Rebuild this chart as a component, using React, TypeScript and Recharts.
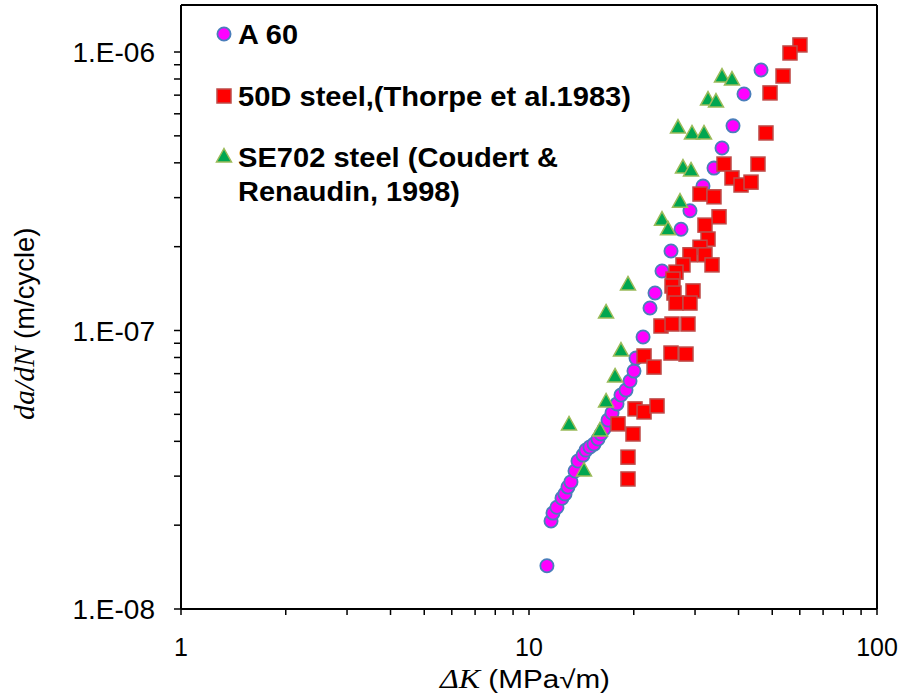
import React from 'react';
import { ScatterChart, Scatter, XAxis, YAxis, ReferenceLine, Customized } from 'recharts';

// ---- data ----
const a60X = [11.26, 11.57, 11.72, 12.03, 12.44, 12.69, 12.94, 13.2, 13.56, 13.83, 14.3, 14.58, 14.97, 15.38, 15.79, 16.1, 16.42, 16.87, 17.32, 17.9, 18.38, 19.0, 19.51, 20.03, 20.3, 21.27, 22.27, 23.02, 24.11, 25.59, 27.34, 29.01, 31.62, 34.01, 35.86, 38.57, 41.48, 46.42];
const a60Y = [1.43e-8, 2.07e-8, 2.21e-8, 2.32e-8, 2.5e-8, 2.59e-8, 2.74e-8, 2.86e-8, 3.13e-8, 3.4e-8, 3.57e-8, 3.72e-8, 3.82e-8, 3.91e-8, 4.08e-8, 4.25e-8, 4.43e-8, 4.77e-8, 5.06e-8, 5.45e-8, 5.87e-8, 6.11e-8, 6.59e-8, 7.15e-8, 7.96e-8, 9.48e-8, 1.204e-7, 1.363e-7, 1.635e-7, 1.93e-7, 2.31e-7, 2.69e-7, 3.3e-7, 3.83e-7, 4.52e-7, 5.43e-7, 7.07e-7, 8.62e-7];

const steel50DX = [60.06, 56.23, 53.7, 49.27, 47.97, 45.5, 36.34, 38.31, 40.67, 43.45, 31.0, 34.01, 35.16, 32.04, 32.69, 31.0, 29.01, 32.04, 27.7, 33.57, 26.45, 25.93, 25.76, 29.6, 26.1, 26.45, 29.01, 23.95, 25.76, 28.63, 21.41, 22.87, 25.59, 28.26, 20.17, 21.41, 23.33, 18.02, 19.9, 19.25, 19.25];
const steel50DY = [1.06e-6, 9.92e-7, 8.2e-7, 7.13e-7, 5.12e-7, 3.96e-7, 3.96e-7, 3.53e-7, 3.33e-7, 3.41e-7, 3.09e-7, 3.02e-7, 2.56e-7, 2.39e-7, 2.13e-7, 1.99e-7, 1.87e-7, 1.87e-7, 1.72e-7, 1.72e-7, 1.62e-7, 1.53e-7, 1.445e-7, 1.387e-7, 1.363e-7, 1.255e-7, 1.255e-7, 1.038e-7, 1.055e-7, 1.055e-7, 8.1e-8, 7.39e-8, 8.3e-8, 8.23e-8, 5.23e-8, 5.1e-8, 5.36e-8, 4.62e-8, 4.25e-8, 3.51e-8, 2.93e-8];

const se702X = [35.86, 38.31, 32.69, 34.46, 26.8, 29.4, 31.83, 27.7, 29.21, 27.16, 24.11, 25.08, 19.25, 16.65, 18.38, 17.67, 16.65, 13.03, 16.0, 14.39];
const se702Y = [8.13e-7, 7.93e-7, 6.72e-7, 6.61e-7, 5.33e-7, 5.08e-7, 5.08e-7, 3.83e-7, 3.74e-7, 2.89e-7, 2.49e-7, 2.3e-7, 1.457e-7, 1.156e-7, 8.44e-8, 6.81e-8, 5.54e-8, 4.58e-8, 4.36e-8, 3.13e-8];

const seriesNames = ['A 60', '50D steel,(Thorpe et al.1983)', 'SE702 steel (Coudert &', 'Renaudin, 1998)'];

const xTicks = [1, 2, 3, 4, 5, 6, 7, 8, 9, 10, 20, 30, 40, 50, 60, 70, 80, 90, 100];
const xMajor = [1, 10, 100];
const xMajorLabels = ['1', '10', '100'];
const yTicks = [1e-8, 2e-8, 3e-8, 4e-8, 5e-8, 6e-8, 7e-8, 8e-8, 9e-8, 1e-7, 2e-7, 3e-7, 4e-7, 5e-7, 6e-7, 7e-7, 8e-7, 9e-7, 1e-6];
const yMajor = [1e-8, 1e-7, 1e-6];
const yMajorLabels = ['1.E-08', '1.E-07', '1.E-06'];

const X_DOMAIN = [1, 100];
const Y_DOMAIN = [1e-8, 1.475e-6];

const zip = (xs: number[], ys: number[]) => xs.map((x, i) => ({ x, y: ys[i] }));
const a60Data = zip(a60X, a60Y);
const steel50DData = zip(steel50DX, steel50DY);
const se702Data = zip(se702X, se702Y);

const FONT = '"Liberation Sans", Arial, sans-serif';
const SERIF = '"Liberation Serif", "Times New Roman", serif';

const matchIdx = (arr: number[], v: number) => arr.findIndex((m) => Math.abs(m - v) / m < 1e-6);

const CircleShape = (p: any) => (
  <circle cx={p.cx} cy={p.cy} r={6.6} fill="#FF00FF" stroke="#4A7EBB" strokeWidth={1.8} />
);
const SquareShape = (p: any) => (
  <rect x={p.cx - 7} y={p.cy - 7} width={14} height={14} fill="#FF0000" stroke="#BE4B48" strokeWidth={1.5} />
);
const TriShape = (p: any) => (
  <polygon
    points={`${p.cx},${p.cy - 8.5} ${p.cx + 7.5},${p.cy + 5} ${p.cx - 7.5},${p.cy + 5}`}
    fill="#00A650"
    stroke="#9BBB59"
    strokeWidth={1.5}
  />
);

const XTick = (props: any) => {
  const { x, y, payload } = props;
  const i = matchIdx(xMajor, payload.value);
  if (i < 0) return null;
  return (
    <text x={x} y={y} dy="0.36em" textAnchor="middle" fontFamily={FONT} fontSize={25} fill="#000">
      {xMajorLabels[i]}
    </text>
  );
};

const YTick = (props: any) => {
  const { x, y, payload } = props;
  const i = matchIdx(yMajor, payload.value);
  if (i < 0) return null;
  return (
    <text x={x} y={y} dy="0.36em" textAnchor="end" fontFamily={FONT} fontSize={28} fill="#000">
      {yMajorLabels[i]}
    </text>
  );
};

const legendWidths = [60, 393, 320, 222];

const LegendAndTitles = () => {
  const tx = 238;
  const ts = { fontFamily: FONT, fontSize: 27, fontWeight: 700, fill: '#000', lengthAdjust: 'spacingAndGlyphs' } as any;
  return (
    <g>
      <circle cx={224} cy={34} r={6.6} fill="#FF00FF" stroke="#4A7EBB" strokeWidth={1.8} />
      <text x={tx} y={34} dy="0.36em" textLength={legendWidths[0]} {...ts}>{seriesNames[0]}</text>
      <rect x={217} y={89} width={14} height={14} fill="#FF0000" stroke="#BE4B48" strokeWidth={1.5} />
      <text x={tx} y={96} dy="0.36em" textLength={legendWidths[1]} {...ts}>{seriesNames[1]}</text>
      <polygon points={`224,148.5 231.5,162 216.5,162`} fill="#00A650" stroke="#9BBB59" strokeWidth={1.5} />
      <text x={tx} y={157.5} dy="0.36em" textLength={legendWidths[2]} {...ts}>{seriesNames[2]}</text>
      <text x={tx} y={191} dy="0.36em" textLength={legendWidths[3]} {...ts}>{seriesNames[3]}</text>
      <text x={440} y={679} dy="0.36em" textAnchor="start" fontFamily={FONT} fontSize={25} fill="#000" textLength={170} lengthAdjust="spacingAndGlyphs">
        <tspan fontFamily={SERIF} fontStyle="italic" fontSize={27}>ΔK</tspan>
        <tspan> (MPa√m)</tspan>
      </text>
      <text x={24} y={420} dy="0.36em" textAnchor="start" fontFamily={FONT} fontSize={27.5} fill="#000" transform="rotate(-90 24 420)">
        <tspan fontFamily={SERIF} fontStyle="italic" fontSize={30}>da/dN</tspan>
        <tspan> (m/cycle)</tspan>
      </text>
    </g>
  );
};

export default function App() {
  return (
    <div style={{ position: 'absolute', left: 0, top: 0, width: 904, height: 699, background: '#fff' }}>
      <ScatterChart width={904} height={699} margin={{ top: 5, right: 27, bottom: 0, left: 0 }}>
        <XAxis
          type="number"
          dataKey="x"
          scale="log"
          domain={X_DOMAIN}
          ticks={xTicks}
          interval={0}
          allowDataOverflow
          height={90}
          tickSize={6}
          tickMargin={32}
          tick={<XTick />}
          axisLine={{ stroke: '#000', strokeWidth: 2 }}
          tickLine={{ stroke: '#000', strokeWidth: 1.5 }}
        />
        <YAxis
          type="number"
          dataKey="y"
          scale="log"
          domain={Y_DOMAIN}
          ticks={yTicks}
          interval={0}
          allowDataOverflow
          width={181}
          tickSize={7}
          tickMargin={19}
          tick={<YTick />}
          axisLine={{ stroke: '#000', strokeWidth: 2 }}
          tickLine={{ stroke: '#000', strokeWidth: 1.5 }}
        />
        <ReferenceLine x={100} stroke="#000" strokeWidth={2} ifOverflow="visible" />
        <ReferenceLine y={Y_DOMAIN[1]} stroke="#000" strokeWidth={2} ifOverflow="visible" />
        <Scatter name={seriesNames[0]} data={a60Data} shape={CircleShape} isAnimationActive={false} />
        <Scatter name={seriesNames[1]} data={steel50DData} shape={SquareShape} isAnimationActive={false} />
        <Scatter name={seriesNames[2]} data={se702Data} shape={TriShape} isAnimationActive={false} />
        <Customized component={LegendAndTitles} />
      </ScatterChart>
    </div>
  );
}
